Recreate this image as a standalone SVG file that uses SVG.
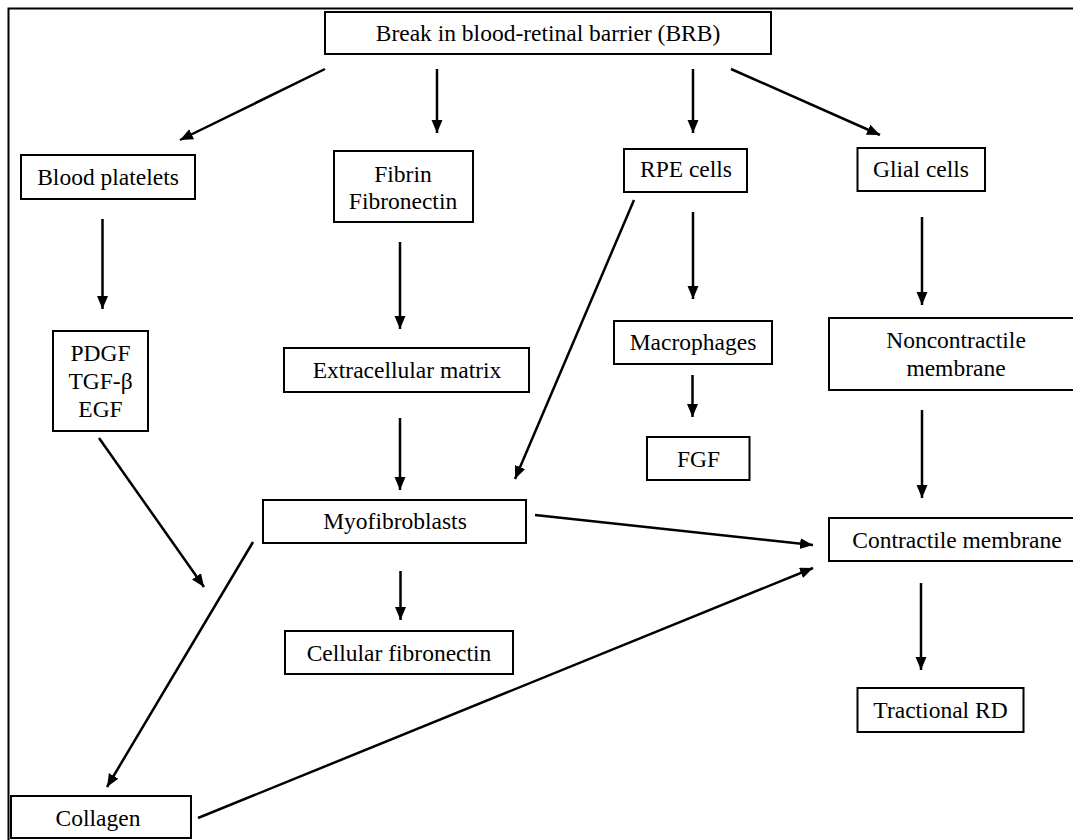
<svg xmlns="http://www.w3.org/2000/svg" width="1073" height="840" viewBox="0 0 1073 840">
<style>
.box{fill:#fff;stroke:#000;stroke-width:2}
.t{font-family:'Liberation Serif','Times New Roman','DejaVu Serif',serif;font-size:23.5px;fill:#000;text-anchor:middle}
.c{stroke:#000;stroke-width:2.5;fill:none;marker-end:url(#ah)}
</style>
<defs>
<marker id="ah" markerUnits="userSpaceOnUse" markerWidth="14" markerHeight="12" refX="13" refY="5.5" orient="auto">
<path d="M0,0 L13,5.5 L0,11 Z" fill="#000"/>
</marker>
</defs>
<rect width="1073" height="840" fill="#fff"/>
<path d="M8.5,840 V8.5 H1073" fill="none" stroke="#000" stroke-width="2"/>
<g id="connectors">
<line class="c" x1="325" y1="69" x2="180" y2="140"/>
<line class="c" x1="437" y1="69" x2="437" y2="133"/>
<line class="c" x1="693" y1="69" x2="693" y2="133"/>
<line class="c" x1="731" y1="69" x2="880" y2="135"/>
<line class="c" x1="102.5" y1="219" x2="102.5" y2="309"/>
<line class="c" x1="400" y1="242" x2="400" y2="329"/>
<line class="c" x1="634" y1="200" x2="515" y2="479"/>
<line class="c" x1="693" y1="212" x2="693" y2="299"/>
<line class="c" x1="922" y1="217" x2="922" y2="305"/>
<line class="c" x1="400" y1="418" x2="400" y2="490"/>
<line class="c" x1="692.5" y1="375" x2="692.5" y2="417"/>
<line class="c" x1="922" y1="410" x2="922" y2="498"/>
<line class="c" x1="99" y1="438" x2="204" y2="587"/>
<line class="c" x1="253" y1="542" x2="107" y2="787"/>
<line class="c" x1="535" y1="515" x2="813" y2="545"/>
<line class="c" x1="400.5" y1="571" x2="400.5" y2="620"/>
<line class="c" x1="921" y1="583" x2="921" y2="670"/>
<line class="c" x1="198" y1="818" x2="813" y2="568"/>
</g>
<g font-family="Liberation Serif, serif">
<g id="n-brb"><rect class="box" x="325" y="12" width="446" height="42"/><text class="t" x="548" y="41">Break in blood-retinal barrier (BRB)</text></g>
<g id="n-platelets"><rect class="box" x="21" y="155" width="174" height="44"/><text class="t" x="108" y="185">Blood platelets</text></g>
<g id="n-fibrin"><rect class="box" x="334" y="151" width="139" height="71"/><text class="t" x="403" y="182">Fibrin</text><text class="t" x="403" y="209">Fibronectin</text></g>
<g id="n-rpe"><rect class="box" x="624" y="149" width="123" height="43"/><text class="t" x="686" y="177">RPE cells</text></g>
<g id="n-glial"><rect class="box" x="857.5" y="148" width="127.5" height="43"/><text class="t" x="921" y="177">Glial cells</text></g>
<g id="n-growth"><rect class="box" x="53" y="331" width="95" height="100"/><text class="t" x="100.5" y="361">PDGF</text><text class="t" x="100.5" y="389">TGF-β</text><text class="t" x="100.5" y="417">EGF</text></g>
<g id="n-ecm"><rect class="box" x="284" y="348" width="245" height="44"/><text class="t" x="407" y="378">Extracellular matrix</text></g>
<g id="n-macro"><rect class="box" x="614" y="321" width="158" height="43"/><text class="t" x="693" y="350">Macrophages</text></g>
<g id="n-noncontractile"><rect class="box" x="829" y="318" width="260" height="72"/><text class="t" x="956" y="348">Noncontractile</text><text class="t" x="956" y="376">membrane</text></g>
<g id="n-fgf"><rect class="box" x="647" y="437" width="102.5" height="43"/><text class="t" x="698.5" y="467">FGF</text></g>
<g id="n-myo"><rect class="box" x="263" y="500" width="263" height="43"/><text class="t" x="395" y="529">Myofibroblasts</text></g>
<g id="n-contractile"><rect class="box" x="829" y="518" width="260" height="43"/><text class="t" x="957" y="548">Contractile membrane</text></g>
<g id="n-cellfib"><rect class="box" x="285" y="631" width="228" height="43"/><text class="t" x="399" y="661">Cellular fibronectin</text></g>
<g id="n-tractional"><rect class="box" x="857.5" y="688" width="166" height="44"/><text class="t" x="940.5" y="718">Tractional RD</text></g>
<g id="n-collagen"><rect class="box" x="11" y="796" width="180" height="42"/><text class="t" x="98" y="826">Collagen</text></g>
</g>
</svg>
